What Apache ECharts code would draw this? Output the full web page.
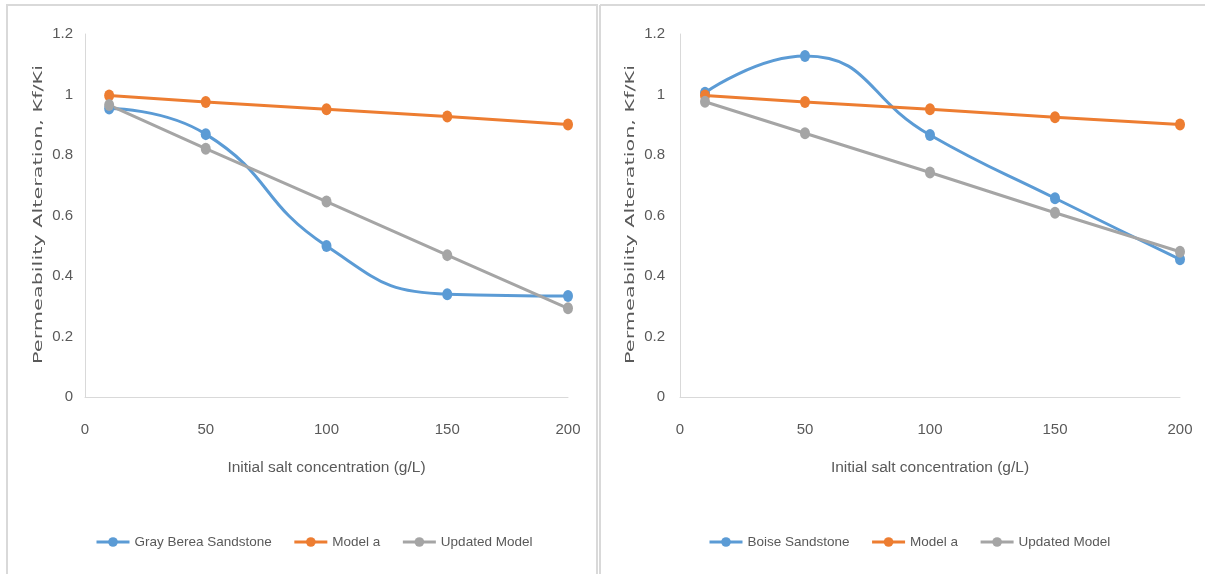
<!DOCTYPE html>
<html>
<head>
<meta charset="utf-8">
<script src="https://cdn.jsdelivr.net/npm/echarts@6/dist/echarts.min.js"></script>
<style>
html,body{margin:0;padding:0;background:#fff;}
#c{width:1205px;height:574px;}
</style>
</head>
<body>
<div id="c"></div>
<script>
// ---- data ----
var xValues = [10, 50, 100, 150, 200];
var grayBerea = [0.954, 0.869, 0.499, 0.340, 0.334];
var modelALeft = [0.997, 0.975, 0.951, 0.927, 0.901];
var updatedLeft = [0.965, 0.821, 0.646, 0.469, 0.293];
var boise = [1.006, 1.127, 0.866, 0.657, 0.455];
var modelARight = [0.997, 0.975, 0.951, 0.925, 0.901];
var updatedRight = [0.976, 0.872, 0.742, 0.609, 0.480];
var leftNames = ['Gray Berea Sandstone', 'Model a', 'Updated Model'];
var rightNames = ['Boise Sandstone', 'Model a', 'Updated Model'];
var xTitle = 'Initial salt concentration (g/L)';
var yTitle = 'Permeability Alteration, Kf/Ki';

function pairs(vals) { return xValues.map(function (x, i) { return [x, vals[i]]; }); }

var colors = { blue: '#5b9bd5', orange: '#ed7d31', gray: '#a5a5a5' };
var font = '"Liberation Sans", Arial, sans-serif';
var txt = '#595959';
var axisCol = '#d9d9d9';

function xAxis(gi) {
  return {
    type: 'value', gridIndex: gi, min: 0, max: 200, interval: 50,
    axisLine: { show: true, lineStyle: { color: axisCol, width: 1 } },
    axisTick: { show: false }, splitLine: { show: false },
    axisLabel: { color: txt, fontFamily: font, fontSize: 15, margin: 25 },
    name: xTitle, nameLocation: 'middle', nameGap: 63,
    nameTextStyle: { color: txt, fontFamily: font, fontSize: 15.5 }
  };
}
function yAxis(gi, margin) {
  return {
    type: 'value', gridIndex: gi, min: 0, max: 1.2, interval: 0.2,
    axisLine: { show: true, lineStyle: { color: axisCol, width: 1 } },
    axisTick: { show: false }, splitLine: { show: false },
    axisLabel: { color: txt, fontFamily: font, fontSize: 15, margin: margin }
  };
}
function series(name, vals, color, gi, smooth) {
  return {
    type: 'line', name: name, data: pairs(vals), xAxisIndex: gi, yAxisIndex: gi,
    smooth: smooth ? 0.5 : false,
    symbol: 'circle', symbolSize: [10, 12],
    lineStyle: { color: color, width: 3 },
    itemStyle: { color: color },
    emphasis: { disabled: true }
  };
}
function legend(names, left) {
  return {
    data: names.map(function (n) { return { name: n }; }),
    left: left, top: 530, itemWidth: 33, itemHeight: 12, itemGap: 21,
    lineStyle: { width: 3 },
    textStyle: { color: txt, fontFamily: font, fontSize: 13.5 },
    selectedMode: false
  };
}
function yTitleText(cx) {
  return {
    type: 'text', x: cx, y: 214.5, rotation: Math.PI / 2, scaleX: 1.6, scaleY: 1,
    style: { text: yTitle, font: '13px "DejaVu Sans", sans-serif', fill: txt, align: 'center', verticalAlign: 'middle' },
    silent: true
  };
}

var chart = echarts.init(document.getElementById('c'), null, { renderer: 'canvas' });
chart.setOption({
  backgroundColor: '#fff',
  animation: false,
  grid: [
    { left: 85, top: 34, width: 483, height: 363 },
    { left: 680, top: 34, width: 500, height: 363 }
  ],
  xAxis: [xAxis(0), xAxis(1)],
  yAxis: [yAxis(0, 12), yAxis(1, 15)],
  legend: [legend(leftNames, 90), legend(rightNames, 703)],
  series: [
    series(leftNames[0], grayBerea, colors.blue, 0, true),
    series(leftNames[1], modelALeft, colors.orange, 0, false),
    series(leftNames[2], updatedLeft, colors.gray, 0, false),
    series(rightNames[0], boise, colors.blue, 1, true),
    series(rightNames[1], modelARight, colors.orange, 1, false),
    series(rightNames[2], updatedRight, colors.gray, 1, false)
  ],
  graphic: [
    { type: 'rect', shape: { x: 7, y: 5, width: 590, height: 600 }, style: { fill: 'none', stroke: axisCol, lineWidth: 2 }, silent: true },
    { type: 'line', shape: { x1: 600, y1: 5, x2: 1205, y2: 5 }, style: { stroke: axisCol, lineWidth: 2 }, silent: true },
    { type: 'line', shape: { x1: 600, y1: 5, x2: 600, y2: 574 }, style: { stroke: axisCol, lineWidth: 2 }, silent: true },
    yTitleText(39),
    yTitleText(630.5)
  ]
});
</script>
</body>
</html>
